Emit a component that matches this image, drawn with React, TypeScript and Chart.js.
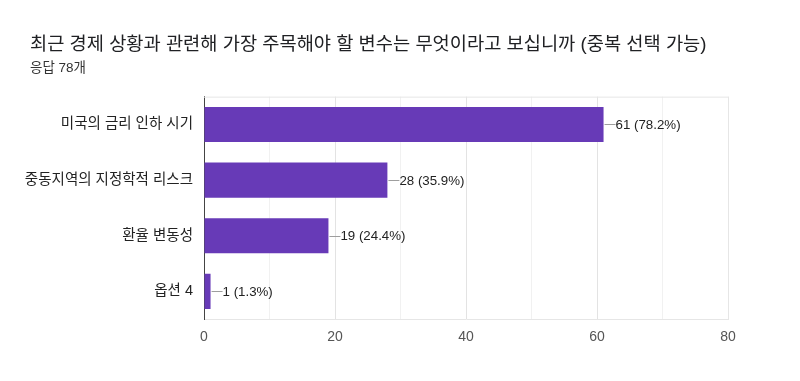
import React, { useEffect, useRef } from "react";
import { Chart, registerables } from "chart.js";

Chart.register(...registerables);

const TITLE = "최근 경제 상황과 관련해 가장 주목해야 할 변수는 무엇이라고 보십니까 (중복 선택 가능)";
const SUBTITLE = "응답 78개";
const categories = ["미국의 금리 인하 시기", "중동지역의 지정학적 리스크", "환율 변동성", "옵션 4"];
const counts = [61, 28, 19, 1];
const percents = ["78.2%", "35.9%", "24.4%", "1.3%"];
const xMax = 80;

const FONT = "Arial, 'Liberation Sans', 'Noto Sans CJK KR', sans-serif";

const titleShiftPlugin = {
  id: "titleShift",
  afterLayout(chart: any) {
    chart.boxes.forEach((b: any) => {
      if (b.position === "top" && b.options && b.options.text !== undefined) {
        b.left = 30;
      }
    });
  },
};

const valueLabelPlugin = {
  id: "valueLabels",
  afterDraw(chart: any) {
    const { ctx, chartArea } = chart;
    ctx.save();
    ctx.strokeStyle = "#e6e6e6";
    ctx.lineWidth = 1;
    ctx.beginPath();
    ctx.moveTo(chartArea.left, chartArea.top + 0.5);
    ctx.lineTo(chartArea.right + 0.5, chartArea.top + 0.5);
    ctx.lineTo(chartArea.right + 0.5, chartArea.bottom);
    ctx.stroke();
    ctx.restore();

    const meta = chart.getDatasetMeta(0);
    ctx.save();
    ctx.font = `13.3px ${FONT}`;
    ctx.textBaseline = "middle";
    ctx.textAlign = "left";
    meta.data.forEach((bar: any, i: number) => {
      const x = bar.x;
      const y = bar.y;
      ctx.strokeStyle = "#9e9e9e";
      ctx.lineWidth = 1;
      ctx.beginPath();
      ctx.moveTo(x + 1, Math.round(y) + 0.5);
      ctx.lineTo(x + 12, Math.round(y) + 0.5);
      ctx.stroke();
      ctx.fillStyle = "#222222";
      ctx.fillText(`${counts[i]} (${percents[i]})`, x + 12, y + 1);
    });
    ctx.restore();
  },
};

export default function App() {
  const ref = useRef<HTMLCanvasElement>(null);
  useEffect(() => {
    document.body.style.margin = "0";
    const chart = new Chart(ref.current!, {
      type: "bar",
      data: {
        labels: categories,
        datasets: [
          {
            data: counts,
            backgroundColor: "#673ab7",
            borderWidth: 0,
            categoryPercentage: 1,
            barPercentage: 0.63,
          },
        ],
      },
      options: {
        indexAxis: "y",
        animation: false,
        responsive: false,
        layout: { padding: { left: 10, right: 72, top: 0, bottom: 25 } },
        plugins: {
          legend: { display: false },
          tooltip: { enabled: false },
          title: {
            display: true,
            text: TITLE,
            align: "start",
            color: "#202124",
            font: { family: FONT, size: 18.7, weight: "normal" },
            padding: { top: 34, bottom: 4 },
          },
          subtitle: {
            display: true,
            text: SUBTITLE,
            align: "start",
            color: "#333333",
            font: { family: FONT, size: 13.5, weight: "normal" },
            padding: { top: 0, bottom: 20 },
          },
        },
        scales: {
          x: {
            min: 0,
            max: xMax,
            ticks: {
              stepSize: 10,
              color: "#555555",
              font: { family: FONT, size: 14 },
              padding: 10,
              callback: (v: any) => (Number(v) % 20 === 0 ? String(v) : ""),
            },
            grid: {
              drawTicks: false,
              color: (c: any) =>
                c.tick && c.tick.value === 0 ? "transparent" : c.tick && c.tick.value % 20 === 0 ? "#e3e3e3" : "#f1f1f1",
            },
            border: { display: true, color: "#e6e6e6" },
          },
          y: {
            afterFit: (scale: any) => {
              scale.width = 194;
            },
            ticks: {
              color: "#222222",
              font: { family: FONT, size: 14.5 },
              padding: 11,
            },
            grid: { display: false, drawTicks: false },
            border: { display: true, color: "#444444", width: 1 },
          },
        },
      },
      plugins: [titleShiftPlugin, valueLabelPlugin],
    });
    return () => chart.destroy();
  }, []);
  return (
    <div style={{ width: 800, height: 381, background: "#fff" }}>
      <canvas ref={ref} width={800} height={381} />
    </div>
  );
}
